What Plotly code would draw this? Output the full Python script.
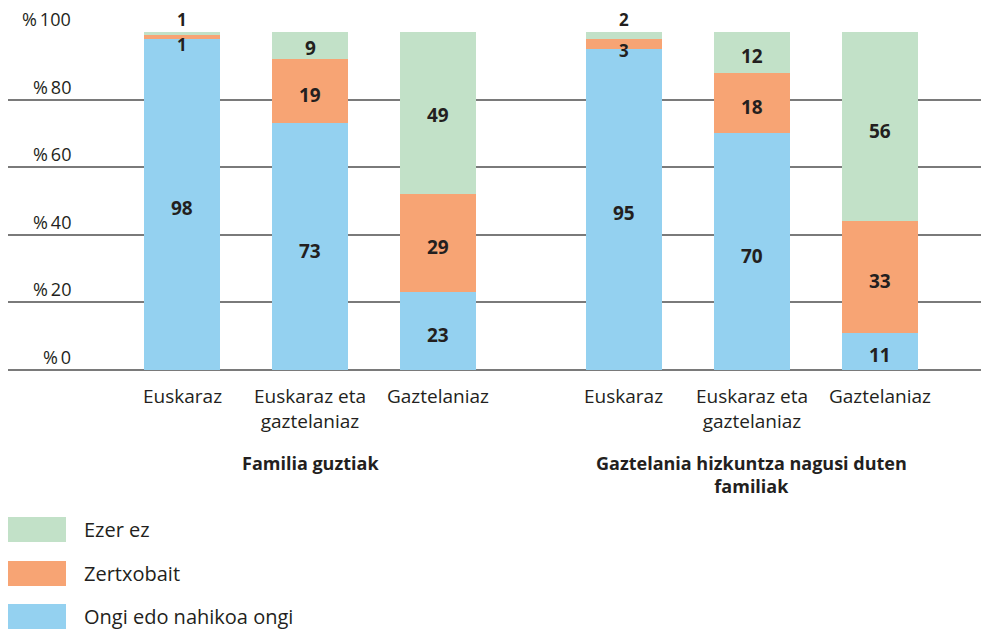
import plotly.graph_objects as go

# data
groups = ["Familia guztiak", "Gaztelania hizkuntza nagusi duten<br>familiak"]
categories = ["Euskaraz", "Euskaraz eta<br>gaztelaniaz", "Gaztelaniaz"]
series_names = ["Ongi edo nahikoa ongi", "Zertxobait", "Ezer ez"]
ongi = [98, 73, 23, 95, 70, 11]
zertxobait = [1, 19, 29, 3, 18, 33]
ezer_ez = [1, 9, 49, 2, 12, 56]
y_ticks = [0, 20, 40, 60, 80, 100]

colors = ["#94d1f0", "#f7a474", "#c2e1c8"]
text_col = "#231f20"
grid_col = "#7a7a7a"
FONT = "Open Sans"

# the page body has an 8px margin, so work in page pixels and shift
OFF = 8
W, H = 989 - OFF, 633 - OFF
ML, MR, MT, MB = 0, 0, 32 - OFF, 263
GROUP_STEP = 3.45

x_pos = [g * GROUP_STEP + i for g in range(len(groups)) for i in range(len(categories))]


def px_x(px):
    return (px - OFF - ML) / (W - ML - MR)


def px_y(py):
    return (H - MB - (py - OFF)) / (H - MT - MB)


fig = go.Figure()
series = [ongi, zertxobait, ezer_ez]
for name, vals, col in zip(series_names, series, colors):
    fig.add_trace(go.Bar(x=x_pos, y=vals, name=name, marker_color=col,
                         marker_line_width=0, width=0.594, showlegend=False,
                         hoverinfo="skip"))

# value labels
for j, x in enumerate(x_pos):
    base = 0
    for s, vals in enumerate(series):
        v = vals[j]
        small = v < 5
        if s == len(series) - 1 and small:
            # tiny top segment: label sits above the bar
            fig.add_annotation(x=x, y=100, text="<b>%d</b>" % v, showarrow=False,
                               yanchor="middle", yshift=13, borderpad=0,
                               font=dict(family=FONT, size=17, color=text_col))
        else:
            mid = min(base + v / 2, 100)
            fig.add_annotation(x=x, y=mid, text="<b>%d</b>" % v, showarrow=False,
                               yanchor="middle", yshift=-7 if small else -4, borderpad=0,
                               font=dict(family=FONT, size=17 if small else 19, color=text_col))
        base += v

# y tick labels above gridlines
for t in y_ticks:
    fig.add_annotation(xref="paper", x=px_x(73), y=t, text="%%\u2009%d" % t, showarrow=False,
                       xanchor="right", yanchor="middle", yshift=13,
                       font=dict(family=FONT, size=18, color=text_col))

# category labels
for j, x in enumerate(x_pos):
    fig.add_annotation(x=x, yref="paper", y=px_y(381), text=categories[j % len(categories)],
                       showarrow=False, yanchor="top", align="center",
                       font=dict(family=FONT, size=19, color=text_col))

# group labels
for g, name in enumerate(groups):
    fig.add_annotation(x=g * GROUP_STEP + 1, yref="paper", y=px_y(449), text="<b>%s</b>" % name,
                       showarrow=False, yanchor="top", align="center",
                       font=dict(family=FONT, size=18, color=text_col))

# custom legend
legend_rows = [(series_names[2], colors[2], 517), (series_names[1], colors[1], 561),
               (series_names[0], colors[0], 604)]
for name, col, top in legend_rows:
    fig.add_shape(type="rect", xref="paper", yref="paper",
                  x0=px_x(OFF), x1=px_x(66), y0=px_y(top + 25), y1=px_y(top),
                  fillcolor=col, line_width=0)
    fig.add_annotation(xref="paper", yref="paper", x=px_x(82), y=px_y(top + 12.5),
                       text=name, showarrow=False, xanchor="left", yanchor="middle",
                       font=dict(family=FONT, size=20, color=text_col))

fig.update_xaxes(range=[(OFF - 182) / 128, (989 - 182) / 128], showgrid=False, zeroline=False,
                 showticklabels=False, fixedrange=True)
fig.update_yaxes(range=[0, 100], tickvals=y_ticks, showticklabels=False,
                 gridcolor=grid_col, gridwidth=1.5, zeroline=True,
                 zerolinecolor=grid_col, zerolinewidth=1.5, fixedrange=True)
fig.update_layout(width=W, height=H, barmode="stack",
                  margin=dict(l=ML, r=MR, t=MT, b=MB),
                  plot_bgcolor="white", paper_bgcolor="white",
                  font=dict(family=FONT, color=text_col))
fig.write_html("out.html")
